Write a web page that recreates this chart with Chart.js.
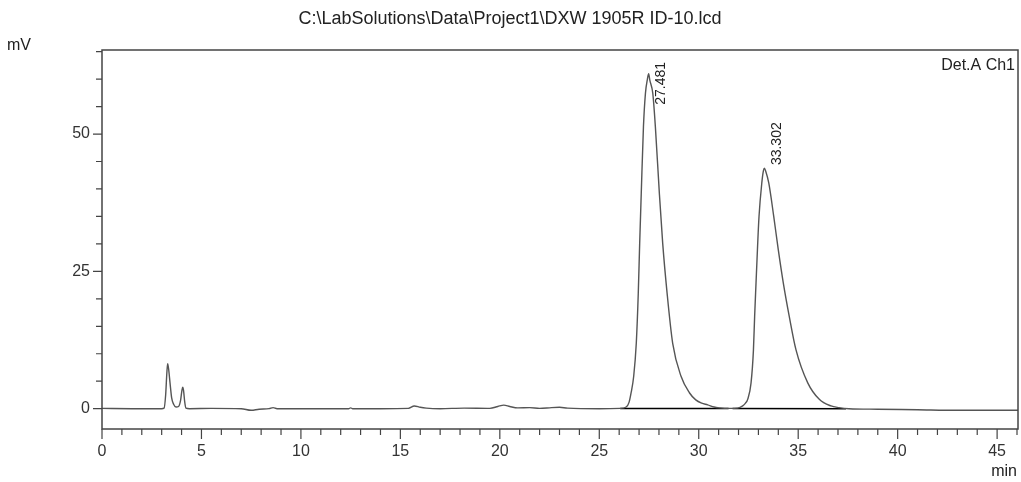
<!DOCTYPE html>
<html>
<head>
<meta charset="utf-8">
<script src="https://cdn.jsdelivr.net/npm/chart.js@4"></script>
<style>
  html, body { margin: 0; padding: 0; background: #fff; }
  #wrap { width: 1021px; height: 482px; }
</style>
</head>
<body>
<div id="wrap"><canvas id="myChart"></canvas></div>
<script>
// retention time (min) and detector signal (mV)
const times = [0, 1.5, 3.0, 3.12, 3.2, 3.26, 3.3, 3.35, 3.42, 3.5, 3.6, 3.72, 3.85, 3.95, 4.02, 4.06, 4.1, 4.16, 4.22, 4.4,
    5.5, 7.0, 7.5, 7.9, 8.4, 8.6, 8.8, 10, 12.4, 12.5, 12.6, 14, 15.4, 15.7, 16.0, 16.3, 17, 18.2, 19.5, 19.9,
    20.2, 20.5, 20.9, 21.5, 22, 22.6, 23.0, 23.4, 25, 26.05, 26.35, 26.5, 26.6, 26.73, 26.86, 26.96, 27.03, 27.11,
    27.22, 27.32, 27.42, 27.481, 27.54, 27.69, 27.82, 28.02, 28.19, 28.41, 28.69, 29.11, 29.53, 29.85, 30.15, 30.45,
    30.77, 31.05, 31.55, 31.95, 32.21, 32.35, 32.46, 32.63, 32.75, 32.81, 32.88, 32.95, 33.03, 33.17, 33.25, 33.302,
    33.36, 33.52, 33.77, 34.0, 34.25, 34.55, 34.89, 35.48, 36.06, 36.65, 37.05, 37.55, 39, 41, 43, 45, 46.05];
const signal = [0.05, 0, 0, 0.1, 2.5, 6.5, 8.2, 7.2, 4.7, 2.0, 0.8, 0.3, 0.4, 1.5, 3.4, 3.9, 3.3, 1.2, 0.1, 0,
    0.05, 0, -0.3, -0.1, 0, 0.2, 0, 0, 0, 0.15, 0, 0, 0.05, 0.5, 0.25, 0.1, 0, 0.1, 0.05, 0.4,
    0.65, 0.4, 0.15, 0.2, 0.05, 0.2, 0.25, 0.1, 0, 0.05, 0.3, 1.2, 2.9, 5.9, 11.9, 21.0, 30.0, 39.2,
    51.3, 57.4, 60.0, 61.0, 59.8, 57.4, 51.3, 39.2, 30.0, 21.0, 11.9, 5.9, 2.9, 1.6, 1.0, 0.7,
    0.3, 0.15, 0.05, 0.1, 0.5, 1.0, 1.7, 4.7, 10.7, 16.8, 22.9, 28.9, 35.0, 41.1, 43.3, 43.8,
    43.3, 41.1, 35.0, 28.9, 22.9, 16.8, 10.7, 4.7, 1.7, 0.5, 0.2, 0.0, -0.1, -0.2, -0.3, -0.3, -0.3];

// integration baselines drawn under the two main peaks
const baseline1 = [[26.05, 0.05], [31.5, 0.05]];
const baseline2 = [[31.7, 0.05], [37.4, 0.0]];

// peak annotations
const peakTimes = [27.481, 33.302];
const peakHeights = [61.0, 43.8];
const peakLabels = ['27.481', '33.302'];

// axis ticks
const xTicks = [];
for (let i = 0; i <= 46; i++) xTicks.push(i);
const yTicks = [0, 5, 10, 15, 20, 25, 30, 35, 40, 45, 50, 55, 60, 65];

const titleText = 'C:\\LabSolutions\\Data\\Project1\\DXW 1905R ID-10.lcd';
const FONT = "'Liberation Sans', Arial, sans-serif";

const toPoints = (xs, ys) => xs.map((x, i) => ({ x: x, y: ys[i] }));
const pairPoints = (arr) => arr.map(p => ({ x: p[0], y: p[1] }));

const decorations = {
    id: 'decorations',
    afterDraw(chart) {
        const c = chart.ctx;
        const area = chart.chartArea;
        const xs = chart.scales.x;
        const ys = chart.scales.y;
        c.save();
        // frame
        c.strokeStyle = '#444';
        c.lineWidth = 1.5;
        c.strokeRect(area.left, area.top, area.right - area.left, area.bottom - area.top);

        // tick marks
        c.lineWidth = 1.2;
        c.beginPath();
        xs.ticks.forEach(t => {
            const px = xs.getPixelForValue(t.value);
            const len = t.value % 5 === 0 ? 10 : 6;
            c.moveTo(px, area.bottom);
            c.lineTo(px, area.bottom + len);
        });
        ys.ticks.forEach(t => {
            const py = ys.getPixelForValue(t.value);
            const len = t.value % 25 === 0 ? 9 : 6;
            c.moveTo(area.left, py);
            c.lineTo(area.left - len, py);
        });
        c.stroke();

        // texts
        c.fillStyle = '#222';
        c.font = '18px ' + FONT;
        c.textAlign = 'center';
        c.textBaseline = 'middle';
        c.fillText(titleText, 510, 19);

        c.font = '16px ' + FONT;
        c.textAlign = 'left';
        c.fillText('mV', 7, 46);
        c.textAlign = 'right';
        c.fillText('Det.A Ch1', area.right - 3, area.top + 16);
        c.fillText('min', area.right - 1, 472);

        // peak labels, rotated
        c.font = '14px ' + FONT;
        peakTimes.forEach((t, i) => {
            const w = c.measureText(peakLabels[i]).width;
            const px = xs.getPixelForValue(t) + 13;
            const py = Math.max(ys.getPixelForValue(peakHeights[i]) - 3, area.top + 12 + w);
            c.save();
            c.translate(px, py);
            c.rotate(-Math.PI / 2);
            c.textAlign = 'left';
            c.textBaseline = 'middle';
            c.fillText(peakLabels[i], 0, 0);
            c.restore();
        });
        c.restore();
    }
};

const ctx = document.getElementById('myChart').getContext('2d');

new Chart(ctx, {
    type: 'line',
    data: {
        datasets: [
            {
                label: 'Det.A Ch1',
                data: toPoints(times, signal),
                borderColor: '#555',
                borderWidth: 1.4,
                pointRadius: 0,
                cubicInterpolationMode: 'monotone',
            },
            {
                label: 'baseline 1',
                data: pairPoints(baseline1),
                borderColor: '#000',
                borderWidth: 1.5,
                pointRadius: 0,
            },
            {
                label: 'baseline 2',
                data: pairPoints(baseline2),
                borderColor: '#000',
                borderWidth: 1.5,
                pointRadius: 0,
            },
        ],
    },
    options: {
        responsive: true,
        maintainAspectRatio: false,
        animation: false,
        layout: { padding: { top: 50, right: 3, bottom: 0, left: 0 } },
        plugins: {
            legend: { display: false },
            tooltip: { enabled: false },
            title: { display: false },
        },
        scales: {
            x: {
                type: 'linear',
                min: 0,
                max: 46.05,
                afterFit: s => {
                    s.height = 53;
                    s.paddingLeft = 0;
                    s.paddingRight = 0;
                },
                afterBuildTicks: s => { s.ticks = xTicks.map(v => ({ value: v })); },
                grid: { display: false, drawTicks: false },
                border: { display: false },
                ticks: {
                    autoSkip: false,
                    maxRotation: 0,
                    padding: 13,
                    color: '#333',
                    font: { family: FONT, size: 16 },
                    callback: v => (v % 5 === 0 ? String(v) : ''),
                },
            },
            y: {
                type: 'linear',
                min: -3.7,
                max: 65.3,
                afterFit: s => {
                    s.width = 102;
                    s.paddingTop = 0;
                    s.paddingBottom = 0;
                },
                afterBuildTicks: s => { s.ticks = yTicks.map(v => ({ value: v })); },
                grid: { display: false, drawTicks: false },
                border: { display: false },
                ticks: {
                    autoSkip: false,
                    padding: 12,
                    color: '#333',
                    font: { family: FONT, size: 16 },
                    callback: v => (v % 25 === 0 ? String(v) : ''),
                },
            },
        },
    },
    plugins: [decorations],
});
</script>
</body>
</html>
